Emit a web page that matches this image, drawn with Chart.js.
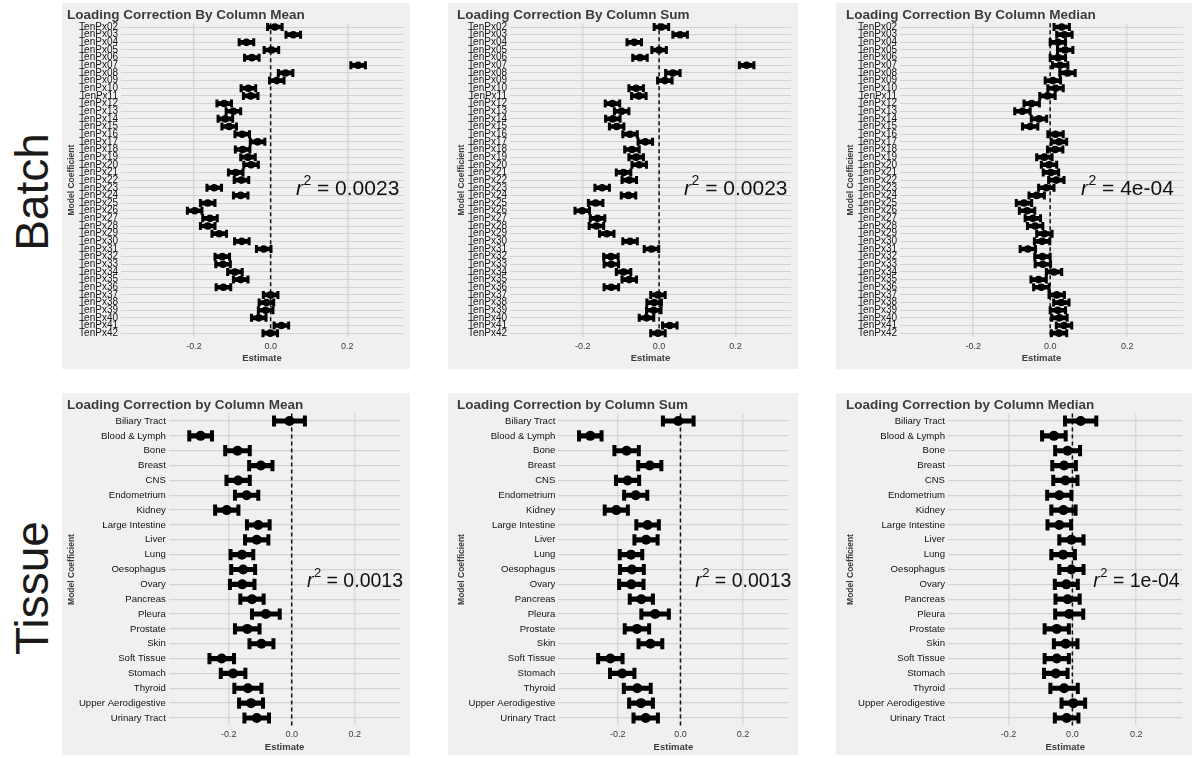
<!DOCTYPE html>
<html>
<head>
<meta charset="utf-8">
<script src="https://cdn.jsdelivr.net/npm/chart.js@4.4.0/dist/chart.umd.min.js"></script>
<style>
  body { margin: 0; background: #fff; font-family: 'Liberation Sans', Arial, sans-serif; }
  #page { position: relative; width: 1202px; height: 758px; overflow: hidden; }
  .panel { position: absolute; }
  .rowlabel { position: absolute; font-size: 46px; color: #1a1a1a; white-space: nowrap;
              transform: translate(-50%, -50%) rotate(-90deg); }
</style>
</head>
<body>
<div id="page">
  <div class="rowlabel" style="left:32px;top:192px">Batch</div>
  <div class="rowlabel" style="left:32px;top:588px">Tissue</div>
  <div class="panel" style="left:62px;top:3px;width:348px;height:366px"><canvas id="batchMean"></canvas></div>
  <div class="panel" style="left:448px;top:3px;width:350px;height:366px"><canvas id="batchSum"></canvas></div>
  <div class="panel" style="left:836px;top:3px;width:356px;height:366px"><canvas id="batchMedian"></canvas></div>
  <div class="panel" style="left:62px;top:393px;width:348px;height:362px"><canvas id="tissueMean"></canvas></div>
  <div class="panel" style="left:448px;top:393px;width:350px;height:362px"><canvas id="tissueSum"></canvas></div>
  <div class="panel" style="left:836px;top:393px;width:356px;height:362px"><canvas id="tissueMedian"></canvas></div>
</div>
<script>
// ---- data ----
const xTicks = [-0.2, 0.0, 0.2];

const batchLabels = ['TenPx02', 'TenPx03', 'TenPx04', 'TenPx05', 'TenPx06', 'TenPx07', 'TenPx08', 'TenPx09',
  'TenPx10', 'TenPx11', 'TenPx12', 'TenPx13', 'TenPx14', 'TenPx15', 'TenPx16', 'TenPx17', 'TenPx18', 'TenPx19',
  'TenPx20', 'TenPx21', 'TenPx22', 'TenPx23', 'TenPx24', 'TenPx25', 'TenPx26', 'TenPx27', 'TenPx28', 'TenPx29',
  'TenPx30', 'TenPx31', 'TenPx32', 'TenPx33', 'TenPx34', 'TenPx35', 'TenPx36', 'TenPx37', 'TenPx38', 'TenPx39',
  'TenPx40', 'TenPx41', 'TenPx42'];

const batchMeanEst = [0.011, 0.059, -0.063, 0.002, -0.049, 0.228, 0.039, 0.016, -0.058, -0.052, -0.121, -0.097,
  -0.118, -0.108, -0.074, -0.034, -0.073, -0.059, -0.051, -0.091, -0.076, -0.147, -0.078, -0.164, -0.198, -0.158,
  -0.164, -0.134, -0.075, -0.018, -0.126, -0.124, -0.093, -0.078, -0.123, 0.000, -0.011, -0.013, -0.031, 0.028, -0.001];
const batchMeanErr = [0.019, 0.019, 0.019, 0.019, 0.019, 0.019, 0.019, 0.019, 0.019, 0.019, 0.019, 0.019,
  0.019, 0.019, 0.019, 0.019, 0.019, 0.019, 0.019, 0.019, 0.019, 0.019, 0.019, 0.019, 0.019, 0.019,
  0.019, 0.019, 0.019, 0.019, 0.019, 0.019, 0.019, 0.019, 0.019, 0.019, 0.019, 0.019, 0.019, 0.019, 0.019];

const batchSumEst = [0.006, 0.055, -0.065, 0.000, -0.050, 0.229, 0.036, 0.015, -0.060, -0.053, -0.122, -0.098,
  -0.121, -0.111, -0.076, -0.036, -0.071, -0.060, -0.052, -0.093, -0.078, -0.149, -0.080, -0.166, -0.201, -0.161,
  -0.164, -0.137, -0.076, -0.020, -0.126, -0.125, -0.093, -0.078, -0.125, -0.003, -0.013, -0.014, -0.033, 0.028, -0.003];
const batchSumErr = [0.019, 0.019, 0.019, 0.019, 0.019, 0.019, 0.019, 0.019, 0.019, 0.019, 0.019, 0.019,
  0.019, 0.019, 0.019, 0.019, 0.019, 0.019, 0.019, 0.019, 0.019, 0.019, 0.019, 0.019, 0.019, 0.019,
  0.019, 0.019, 0.019, 0.019, 0.019, 0.019, 0.019, 0.019, 0.019, 0.019, 0.019, 0.019, 0.019, 0.019, 0.019];

const batchMedianEst = [0.030, 0.037, 0.020, 0.039, 0.020, 0.026, 0.045, 0.007, 0.014, -0.007, -0.048, -0.072,
  -0.029, -0.052, 0.014, 0.023, 0.013, -0.015, -0.003, 0.002, 0.016, -0.010, -0.035, -0.068, -0.060, -0.045,
  -0.039, -0.015, -0.021, -0.058, -0.020, -0.019, 0.010, -0.030, -0.023, 0.017, 0.029, 0.020, 0.024, 0.036, 0.023];
const batchMedianErr = [0.020, 0.020, 0.020, 0.020, 0.020, 0.020, 0.020, 0.020, 0.020, 0.020, 0.020, 0.020,
  0.020, 0.020, 0.020, 0.020, 0.020, 0.020, 0.020, 0.020, 0.020, 0.020, 0.020, 0.020, 0.020, 0.020,
  0.020, 0.020, 0.020, 0.020, 0.020, 0.020, 0.020, 0.020, 0.020, 0.020, 0.020, 0.020, 0.020, 0.020, 0.020];

const tissueLabels = ['Biliary Tract', 'Blood & Lymph', 'Bone', 'Breast', 'CNS', 'Endometrium', 'Kidney',
  'Large Intestine', 'Liver', 'Lung', 'Oesophagus', 'Ovary', 'Pancreas', 'Pleura', 'Prostate', 'Skin',
  'Soft Tissue', 'Stomach', 'Thyroid', 'Upper Aerodigestive', 'Urinary Tract'];

const tissueMeanEst = [-0.007, -0.289, -0.172, -0.098, -0.170, -0.143, -0.206, -0.106, -0.111, -0.158, -0.154,
  -0.157, -0.126, -0.082, -0.141, -0.096, -0.222, -0.186, -0.139, -0.129, -0.111];
const tissueMeanErr = [0.049, 0.036, 0.039, 0.037, 0.037, 0.037, 0.037, 0.036, 0.037, 0.036, 0.038,
  0.039, 0.037, 0.044, 0.039, 0.038, 0.039, 0.039, 0.043, 0.038, 0.039];

const tissueSumEst = [-0.007, -0.288, -0.172, -0.098, -0.169, -0.143, -0.205, -0.105, -0.110, -0.158, -0.155,
  -0.157, -0.125, -0.081, -0.139, -0.096, -0.224, -0.186, -0.138, -0.126, -0.111];
const tissueSumErr = [0.049, 0.036, 0.039, 0.037, 0.037, 0.037, 0.037, 0.036, 0.037, 0.036, 0.038,
  0.039, 0.037, 0.044, 0.039, 0.038, 0.039, 0.039, 0.043, 0.038, 0.039];

const tissueMedianEst = [0.026, -0.058, -0.015, -0.026, -0.022, -0.041, -0.028, -0.041, -0.003, -0.029, -0.003,
  -0.019, -0.015, -0.010, -0.049, -0.021, -0.049, -0.052, -0.026, 0.003, -0.018];
const tissueMedianErr = [0.049, 0.037, 0.039, 0.037, 0.038, 0.038, 0.038, 0.037, 0.038, 0.037, 0.038,
  0.036, 0.038, 0.044, 0.038, 0.037, 0.038, 0.037, 0.043, 0.037, 0.037];

const X_MIN = -0.39;
const X_MAX = 0.345;
const FONT = "'Liberation Sans', Arial, Helvetica, sans-serif";
const TEXT = '#3C3C3C';
const GRID = '#D2D2D2';

Chart.defaults.font.family = FONT;

// grey panel background
const panelBg = {
    id: 'panelBg',
    beforeDraw(chart) {
        const ctx = chart.ctx;
        ctx.save();
        ctx.fillStyle = '#F0F0F0';
        ctx.fillRect(0, 0, chart.width, chart.height);
        ctx.restore();
    }
};

// dashed reference line at zero
const zeroLine = {
    id: 'zeroLine',
    beforeDatasetsDraw(chart) {
        const {ctx, chartArea, scales} = chart;
        const x = scales.x.getPixelForValue(0);
        ctx.save();
        ctx.strokeStyle = '#111';
        ctx.lineWidth = 1.5;
        ctx.setLineDash([4, 3]);
        ctx.beginPath();
        ctx.moveTo(x, chartArea.top);
        ctx.lineTo(x, chartArea.bottom);
        ctx.stroke();
        ctx.restore();
    }
};

// r^2 annotation
const r2Label = {
    id: 'r2Label',
    afterDatasetsDraw(chart, args, opts) {
        if (!opts.value) return;
        const {ctx, scales} = chart;
        const size = opts.size;
        const cx = scales.x.getPixelForValue(opts.x);
        const cy = scales.y.getPixelForValue(opts.row);
        const base = cy + size * 0.36;
        ctx.save();
        ctx.fillStyle = '#111';
        ctx.textBaseline = 'alphabetic';
        ctx.textAlign = 'left';
        const fR = `italic ${size}px ${FONT}`;
        const fSup = `${Math.round(size * 0.68)}px ${FONT}`;
        const fMain = `${size}px ${FONT}`;
        const rest = ' = ' + opts.value;
        ctx.font = fR; const wR = ctx.measureText('r').width;
        ctx.font = fSup; const wS = ctx.measureText('2').width;
        ctx.font = fMain; const wM = ctx.measureText(rest).width;
        let x = cx - (wR + wS + wM) / 2;
        ctx.font = fR; ctx.fillText('r', x, base); x += wR + 0.5;
        ctx.font = fSup; ctx.fillText('2', x, base - size * 0.5); x += wS;
        ctx.font = fMain; ctx.fillText(rest, x, base);
        ctx.restore();
    }
};

function makePanel(id, cfg) {
    const {labels, est, err, title, r2, small} = cfg;
    const lo = est.map((v, i) => v - err[i]);
    const hi = est.map((v, i) => v + err[i]);
    const capR = small ? 4 : 5.6;
    const capW = small ? 3 : 4;
    const dotR = small ? 3.8 : 5;

    const capSet = data => ({
        type: 'line', indexAxis: 'y', data: data, showLine: false,
        pointStyle: 'line', pointRotation: 90, pointRadius: capR,
        pointBorderColor: '#000', pointBorderWidth: capW, pointBackgroundColor: '#000', order: 1
    });

    new Chart(document.getElementById(id), {
        type: 'bar',
        data: {
            labels: labels,
            datasets: [
                {
                    type: 'bar', indexAxis: 'y',
                    data: lo.map((l, i) => [l, hi[i]]),
                    backgroundColor: '#000', barThickness: small ? 4 : 4.5, order: 2
                },
                capSet(lo),
                capSet(hi),
                {
                    type: 'line', indexAxis: 'y', data: est, showLine: false,
                    pointStyle: 'circle', pointRadius: dotR, pointBorderWidth: 0,
                    pointBackgroundColor: '#000', pointBorderColor: '#000', order: 0
                }
            ]
        },
        options: {
            indexAxis: 'y',
            responsive: true,
            maintainAspectRatio: false,
            animation: false,
            events: [],
            layout: { padding: { left: cfg.padLeft, right: cfg.padRight, top: cfg.padTop, bottom: 0 } },
            plugins: {
                legend: { display: false },
                tooltip: { enabled: false },
                title: {
                    display: true, text: title, align: 'start', color: TEXT,
                    font: { size: 13.5, weight: 'bold' }, padding: { top: 2, bottom: 0 }
                },
                r2Label: { value: r2, x: 0.2, row: small ? 21 : 10.7, size: small ? 21 : 19.5 }
            },
            scales: {
                x: {
                    type: 'linear', min: X_MIN, max: X_MAX,
                    afterBuildTicks: s => { s.ticks = xTicks.map(v => ({ value: v })); },
                    afterFit: s => { s.height = cfg.xHeight; },
                    ticks: {
                        callback: v => Number(v).toFixed(1), color: TEXT, padding: 4,
                        autoSkip: false, maxRotation: 0, font: { size: 9 }
                    },
                    grid: { color: '#D9D9D9', lineWidth: 1.5, drawTicks: false },
                    border: { display: false },
                    title: {
                        display: true, text: 'Estimate', color: TEXT,
                        font: { size: 9.5, weight: 'bold' }, padding: { top: 0, bottom: cfg.xTitlePad }
                    }
                },
                y: {
                    type: 'category', offset: true,
                    afterFit: s => { s.width = cfg.yWidth; },
                    ticks: {
                        autoSkip: false, color: '#111', padding: 3,
                        font: { size: small ? 10 : 9.6 }
                    },
                    grid: { offset: false, color: GRID, lineWidth: small ? 1 : 1.3, drawTicks: false },
                    border: { display: false },
                    title: {
                        display: true, text: 'Model Coefficient', color: TEXT,
                        font: { size: 8.5, weight: 'bold' }, padding: { top: 0, bottom: 0 }
                    }
                }
            }
        },
        plugins: [panelBg, zeroLine, r2Label]
    });
}

const topRow = { small: true, padTop: 2, xHeight: 32, xTitlePad: 5 };
const bottomRow = { small: false, padTop: 2.4, xHeight: 29.6, xTitlePad: 2 };

makePanel('batchMean', Object.assign({}, topRow, {
    labels: batchLabels, est: batchMeanEst, err: batchMeanErr,
    title: 'Loading Correction By Column Mean', r2: '0.0023', padLeft: 5, padRight: 6, yWidth: 54
}));
makePanel('batchSum', Object.assign({}, topRow, {
    labels: batchLabels, est: batchSumEst, err: batchSumErr,
    title: 'Loading Correction By Column Sum', r2: '0.0023', padLeft: 9, padRight: 3.5, yWidth: 53
}));
makePanel('batchMedian', Object.assign({}, topRow, {
    labels: batchLabels, est: batchMedianEst, err: batchMedianErr,
    title: 'Loading Correction By Column Median', r2: '4e-04', padLeft: 10, padRight: 9, yWidth: 54
}));
makePanel('tissueMean', Object.assign({}, bottomRow, {
    labels: tissueLabels, est: tissueMeanEst, err: tissueMeanErr,
    title: 'Loading Correction by Column Mean', r2: '0.0013', padLeft: 5, padRight: 3.4, yWidth: 101.8
}));
makePanel('tissueSum', Object.assign({}, bottomRow, {
    labels: tissueLabels, est: tissueSumEst, err: tissueSumErr,
    title: 'Loading Correction by Column Sum', r2: '0.0013', padLeft: 9, padRight: 2.9, yWidth: 101.4
}));
makePanel('tissueMedian', Object.assign({}, bottomRow, {
    labels: tissueLabels, est: tissueMedianEst, err: tissueMedianErr,
    title: 'Loading Correction by Column Median', r2: '1e-04', padLeft: 10, padRight: 6.2, yWidth: 102
}));
</script>
</body>
</html>
